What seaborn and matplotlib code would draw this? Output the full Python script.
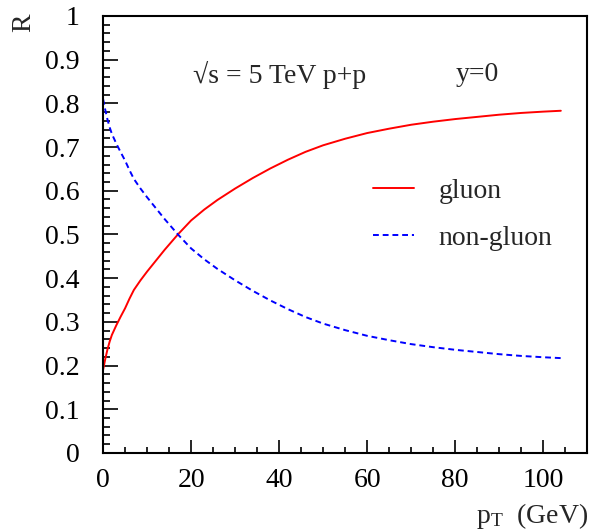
import pandas as pd
import matplotlib
matplotlib.use("Agg")
import matplotlib.pyplot as plt
import seaborn as sns

# Valores
pt = [0, 0.5, 1, 1.5, 2, 3, 4, 5, 6, 7, 8.5, 10, 12, 14, 17, 20, 23, 26, 30,
      34, 38, 42, 46, 50, 55, 60, 65, 70, 75, 80, 85, 90, 95, 100, 104]
gluon = [0.19, 0.215, 0.237, 0.255, 0.27, 0.292, 0.312, 0.331, 0.353, 0.373,
         0.395, 0.415, 0.44, 0.465, 0.5, 0.532, 0.557, 0.579, 0.605, 0.629,
         0.651, 0.671, 0.689, 0.704, 0.719, 0.732, 0.742, 0.751, 0.758, 0.764,
         0.769, 0.774, 0.778, 0.781, 0.783]
non_gluon = [0.81, 0.785, 0.763, 0.745, 0.73, 0.708, 0.688, 0.669, 0.647,
             0.627, 0.605, 0.585, 0.56, 0.535, 0.5, 0.468, 0.443, 0.421, 0.395,
             0.371, 0.349, 0.329, 0.311, 0.296, 0.281, 0.268, 0.258, 0.249,
             0.242, 0.236, 0.231, 0.226, 0.222, 0.219, 0.217]

sns.set_theme(style="ticks")
plt.rcParams['font.family'] = ['Liberation Serif', 'DejaVu Serif']
plt.rcParams['mathtext.fontset'] = 'custom'
plt.rcParams['mathtext.rm'] = 'Liberation Serif'
plt.rcParams['mathtext.it'] = 'Liberation Serif:italic'
fs = 20

df = pd.DataFrame({'pT': pt, 'gluon': gluon, 'non-gluon': non_gluon})

fig = plt.figure(figsize=(5.89, 5.31), dpi=100)
ax = fig.add_axes([0.175, 0.147, 0.822, 0.823])

sns.lineplot(data=df, x='pT', y='gluon', ax=ax, color='#ff0000', lw=1.4,
             label='gluon')
sns.lineplot(data=df, x='pT', y='non-gluon', ax=ax, color='#0000ff', lw=1.4,
             label='non-gluon')
ax.lines[1].set_linestyle((0, (3, 2)))

ax.set_xlim(0, 110)
ax.set_ylim(0, 1)
ax.set_xticks([0, 20, 40, 60, 80, 100])
ax.set_xticks(range(0, 110, 5), minor=True)
ax.set_yticks([i / 10 for i in range(11)])
ax.set_yticklabels(['0', '0.1', '0.2', '0.3', '0.4', '0.5', '0.6', '0.7',
                    '0.8', '0.9', '1'])
ax.set_yticks([i / 50 for i in range(51)], minor=True)

ax.tick_params(axis='both', which='both', direction='in', colors='black',
               labelsize=fs, width=1.2)
ax.tick_params(axis='y', which='major', length=11, pad=17)
ax.tick_params(axis='y', which='minor', length=5)
ax.tick_params(axis='x', which='major', length=9.5, pad=11)
ax.tick_params(axis='x', which='minor', length=4.5)
for s in ax.spines.values():
    s.set_linewidth(1.5)
    s.set_color('black')

ax.set_xlabel('')
ax.set_ylabel('')
fig.text(0.04, 0.975, 'R', rotation=90, fontsize=fs, ha='center', va='top')
fig.text(0.999, 0.0, r'$\mathrm{p}_{\mathrm{T}}$  (GeV)', fontsize=fs,
         ha='right', va='bottom')

ax.text(0.186, 0.865, '√s = 5 TeV p+p', transform=ax.transAxes, fontsize=fs,
        va='center')
ax.text(0.729, 0.865, 'y=0', transform=ax.transAxes, fontsize=fs, va='center')

leg = ax.legend(loc='upper left', bbox_to_anchor=(0.558, 0.628), frameon=False,
                fontsize=fs, handlelength=1.45, handletextpad=0.9,
                labelspacing=0.78, borderpad=0, borderaxespad=0)

fig.savefig('out.png', dpi=100)
